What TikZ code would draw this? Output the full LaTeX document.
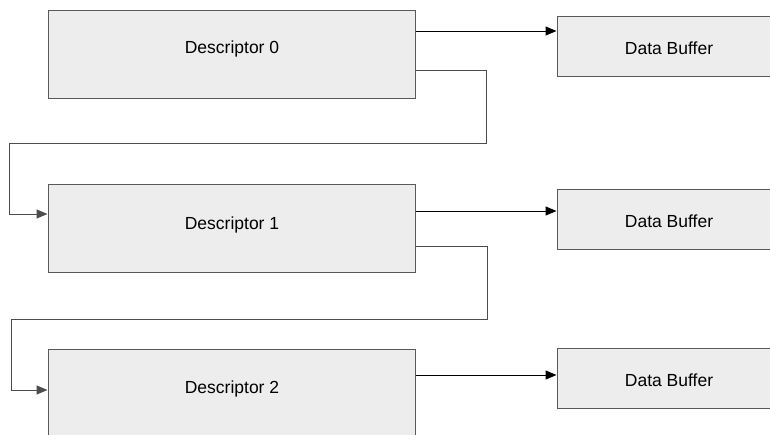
\documentclass[tikz,border=0pt]{standalone}
\usepackage{fontspec}
\setmainfont{Liberation Sans}
\usetikzlibrary{arrows.meta}
\begin{document}
\begin{tikzpicture}[x=1pt,y=-1pt,
  desc/.style={draw=black!65,fill=black!7,line width=1pt,minimum width=367pt,minimum height=88pt,inner sep=0pt},
  buf/.style={draw=black!65,fill=black!7,line width=1pt,minimum width=224pt,minimum height=60pt,inner sep=0pt},
  lbl/.style={font=\fontsize{17.5}{20}\selectfont,inner sep=0pt},
  arr/.style={-{Triangle[length=11pt,width=9pt]},line width=1pt,black},
  loop/.style={-{Triangle[length=11pt,width=9pt]},line width=1pt,draw=black!70}]
\useasboundingbox (0,0) rectangle (770,434);
\clip (0,0) rectangle (770,434);
\fill[white] (0,0) rectangle (770,434);
\node[desc] (d0) at (231.5,54) {};
\node[desc] (d1) at (231.5,228.5) {};
\node[desc] (d2) at (231.5,393) {};
\node[lbl] (t0) at (232,49) {Descriptor 0};
\node[lbl] (t1) at (232,225) {Descriptor 1};
\node[lbl] (t2) at (232,389) {Descriptor 2};
\node[buf] (b0) at (669,46) {};
\node[buf] (b1) at (669,219) {};
\node[buf] (b2) at (669,378) {};
\node[lbl] (u0) at (669,48.5) {Data Buffer};
\node[lbl] (u1) at (669,221) {Data Buffer};
\node[lbl] (u2) at (669,380) {Data Buffer};
\draw[arr] ([yshift=23pt]d0.east) -- ([yshift=23pt]d0.east -| b0.west);
\draw[arr] ([yshift=17.5pt]d1.east) -- ([yshift=17.5pt]d1.east -| b1.west);
\draw[arr] ([yshift=18pt]d2.east) -- ([yshift=18pt]d2.east -| b2.west);
\draw[loop] ([yshift=-16pt]d0.east) -| (486,143) -- (9,143) |- ([yshift=14.5pt]d1.west);
\draw[loop] ([yshift=-18pt]d1.east) -| (487,319) -- (11,319) |- ([yshift=3pt]d2.west);
\end{tikzpicture}
\end{document}
